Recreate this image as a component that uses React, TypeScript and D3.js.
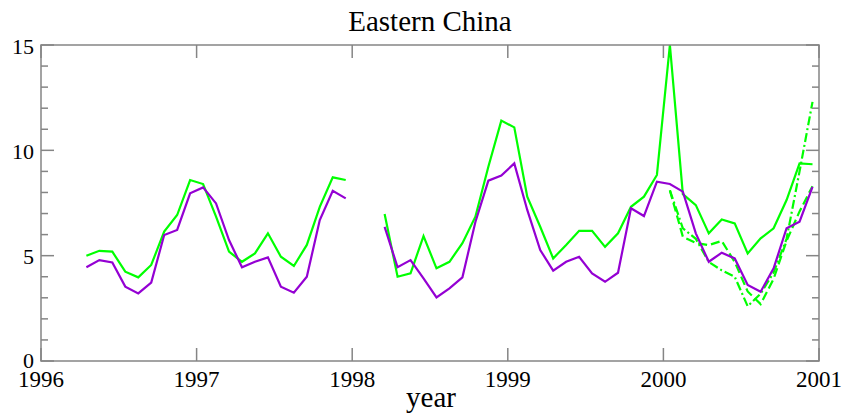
import React from "react";
import * as d3 from "d3";

// ---- data ----
const startYear = 1996;
const firstMonthIndex = 3; // April 1996 (months counted from Jan 1996)
const greenValues: (number | null)[] = [
  // 1996 Apr..Dec
  5.0, 5.23, 5.19, 4.24, 3.97, 4.56, 6.14, 6.93, 8.59,
  // 1997
  8.4, 6.85, 5.19, 4.71, 5.11, 6.06, 4.95, 4.51, 5.51, 7.32, 8.72, 8.59,
  // 1998
  null, null, 6.98, 4.0, 4.16, 5.93, 4.4, 4.71, 5.59, 6.85, 9.22, 11.41,
  // 1999
  11.09, 7.8, 6.37, 4.87, 5.51, 6.18, 6.18, 5.42, 6.06, 7.32, 7.8, 8.83,
  // 2000
  15.0, 7.92, 7.4, 6.06, 6.72, 6.53, 5.11, 5.82, 6.3, 7.64, 9.38, 9.34,
];
const purpleValues: (number | null)[] = [
  4.45, 4.79, 4.68, 3.53, 3.21, 3.72, 5.98, 6.22, 7.96,
  8.24, 7.48, 5.74, 4.45, 4.71, 4.92, 3.53, 3.24, 4.0, 6.69, 8.08, 7.72,
  null, null, 6.37, 4.45, 4.79, 3.92, 3.02, 3.45, 3.97, 6.6, 8.56, 8.8,
  9.38, 7.17, 5.27, 4.29, 4.71, 4.95, 4.16, 3.76, 4.19, 7.25, 6.88, 8.51,
  8.4, 8.04, 6.06, 4.71, 5.14, 4.87, 3.61, 3.29, 4.4, 6.3, 6.61, 8.27,
];
const forecastMonthIndex = 48; // January 2000
const dashedValues = [8.1, 5.9, 5.6, 5.5, 5.7, 4.7, 3.3, 2.7, 3.9, 5.7, 7.1, 8.3];
const dashDotValues = [8.1, 6.3, 5.8, 4.7, 4.3, 4.0, 2.6, 3.2, 4.2, 5.8, 9.0, 12.3];

const xTickValues = [1996, 1997, 1998, 1999, 2000, 2001];
const yTickValues = [0, 5, 10, 15];
const titleText = "Eastern China";
const xLabelText = "year";

// ---- layout ----
const W = 844;
const H = 417;
const L = 41;
const R = 819;
const T = 45;
const B = 361;
const FONT = "'Liberation Serif', 'Times New Roman', serif";
const AXIS = "#858585";
const GREEN = "#00ff00";
const PURPLE = "#9400d3";

type Pt = { t: number; v: number | null };

const toPts = (vals: (number | null)[], first: number): Pt[] =>
  vals.map((v, i) => ({ t: startYear + (first + i + 0.5) / 12, v }));

export default function App() {
  const x = d3.scaleLinear().domain([1996, 2001]).range([L, R]);
  const y = d3.scaleLinear().domain([0, 15]).range([B, T]);
  const line = d3
    .line<Pt>()
    .defined((d) => d.v !== null)
    .x((d) => x(d.t))
    .y((d) => y(d.v as number));

  const yMinor = d3.range(0, 16).filter((v) => v % 5 !== 0);

  const series = [
    { pts: toPts(dashedValues, forecastMonthIndex), color: GREEN, dash: "9,4" },
    { pts: toPts(dashDotValues, forecastMonthIndex), color: GREEN, dash: "9,3,2,3" },
    { pts: toPts(greenValues, firstMonthIndex), color: GREEN, dash: undefined },
    { pts: toPts(purpleValues, firstMonthIndex), color: PURPLE, dash: undefined },
  ];

  return (
    <svg
      width={W}
      height={H}
      style={{ position: "absolute", left: 0, top: 0, background: "#fff" }}
    >
      <defs>
        <clipPath id="plot">
          <rect x={L} y={T} width={R - L} height={B - T} />
        </clipPath>
      </defs>
      <rect x={0} y={0} width={W} height={H} fill="#fff" />
      <g clipPath="url(#plot)">
        {series.map((s, i) => (
          <path
            key={i}
            d={line(s.pts) || ""}
            fill="none"
            stroke={s.color}
            strokeWidth={2.2}
            strokeDasharray={s.dash}
            strokeLinejoin="miter"
          />
        ))}
      </g>
      {/* frame */}
      <rect x={L} y={T} width={R - L} height={B - T} fill="none" stroke={AXIS} strokeWidth={1.5} />
      {/* x ticks */}
      {xTickValues.map((v) => (
        <g key={"xt" + v}>
          <line x1={x(v)} x2={x(v)} y1={B} y2={B - 13} stroke={AXIS} strokeWidth={1.5} />
          <line x1={x(v)} x2={x(v)} y1={T} y2={T + 13} stroke={AXIS} strokeWidth={1.5} />
          <text
            x={x(v)}
            y={387}
            textAnchor="middle"
            fontFamily={FONT}
            fontSize={23}
            fill="#000"
          >
            {v}
          </text>
        </g>
      ))}
      {/* y ticks */}
      {yTickValues.map((v) => (
        <g key={"yt" + v}>
          <line x1={L} x2={L + 13} y1={y(v)} y2={y(v)} stroke={AXIS} strokeWidth={1.5} />
          <line x1={R} x2={R - 13} y1={y(v)} y2={y(v)} stroke={AXIS} strokeWidth={1.5} />
          <text
            x={34}
            y={y(v) + (v === 0 ? 6.5 : 8.5)}
            textAnchor="end"
            fontFamily={FONT}
            fontSize={22}
            fill="#000"
          >
            {v}
          </text>
        </g>
      ))}
      {yMinor.map((v) => (
        <g key={"ym" + v}>
          <line x1={L} x2={L + 7} y1={y(v)} y2={y(v)} stroke={AXIS} strokeWidth={1.5} />
          <line x1={R} x2={R - 7} y1={y(v)} y2={y(v)} stroke={AXIS} strokeWidth={1.5} />
        </g>
      ))}
      <text x={430} y={31} textAnchor="middle" fontFamily={FONT} fontSize={29} fill="#000">
        {titleText}
      </text>
      <text x={431} y={407} textAnchor="middle" fontFamily={FONT} fontSize={29} fill="#000">
        {xLabelText}
      </text>
    </svg>
  );
}
